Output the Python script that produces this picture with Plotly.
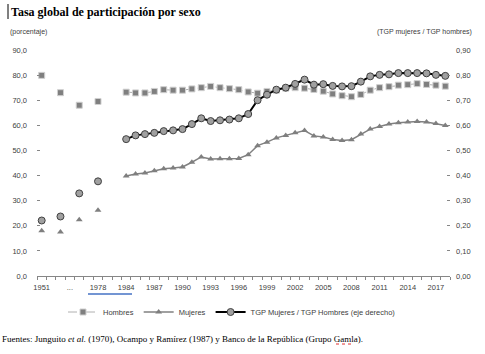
import plotly.graph_objects as go

# ---------------- data ----------------
categories = ["1951", "1951b", "1964", "...", "1973", "1973b", "1978", "1978b", "1978c"] + [str(y) for y in range(1984, 2019)]
hist_periods = ["1951", "1964", "1973", "1978"]
annual_years = [str(y) for y in range(1984, 2019)]

hombres_hist = [79.9, 73.0, 68.0, 69.5]
mujeres_hist = [18.0, 17.5, 22.4, 26.2]
ratio_hist = [0.221, 0.237, 0.329, 0.377]

hombres_annual = [73.2, 72.9, 72.9, 73.5, 74.2, 74.0, 74.0, 74.5, 75.0, 75.5,
                  75.0, 74.6, 74.2, 73.3, 72.8, 73.5, 74.0, 74.8, 75.0, 74.8,
                  74.3, 73.6, 72.5, 71.8, 71.4, 72.3, 74.0, 75.0, 75.4, 76.0,
                  76.2, 76.6, 76.3, 76.0, 75.6]
mujeres_annual = [39.8, 40.6, 41.0, 41.9, 42.7, 43.0, 43.4, 45.3, 47.4, 46.6,
                  46.7, 46.7, 46.8, 48.3, 51.9, 53.3, 55.0, 56.0, 57.0, 57.9,
                  55.8, 55.4, 54.4, 54.0, 54.3, 56.5, 58.5, 59.5, 60.5, 61.0,
                  61.3, 61.5, 61.3, 60.7, 59.9]
ratio_annual = [0.545, 0.560, 0.565, 0.570, 0.577, 0.580, 0.585, 0.605, 0.628, 0.617,
                0.620, 0.623, 0.628, 0.645, 0.700, 0.722, 0.742, 0.750, 0.765, 0.782,
                0.762, 0.764, 0.757, 0.755, 0.756, 0.774, 0.795, 0.801, 0.803, 0.808,
                0.808, 0.808, 0.807, 0.801, 0.797]

left_ticks = [0, 10, 20, 30, 40, 50, 60, 70, 80, 90]
right_ticks = [0.0, 0.1, 0.2, 0.3, 0.4, 0.5, 0.6, 0.7, 0.8, 0.9]

title_text = "Tasa global de participación por sexo"
left_unit = "(porcentaje)"
right_unit = "(TGP mujeres / TGP hombres)"
source_text = ("Fuentes: Junguito <i>et al.</i> (1970), Ocampo y Ramírez (1987) "
               "y Banco de la República (Grupo Gamla).")


def full_series(hist, annual):
    m = dict(zip(hist_periods, hist))
    m.update(zip(annual_years, annual))
    return [m.get(c) for c in categories]


# ---------------- layout geometry ----------------
W, H = 485, 354
ML, MR, MT, MB = 37, 35, 50, 78
PW, PH = W - ML - MR, H - MT - MB


def px(x):
    return (x - ML) / PW


def py(y):
    return (H - MB - y) / PH


LABEL_FONT = dict(family="Liberation Sans, Arial, sans-serif", size=7.5, color="#404040")

fig = go.Figure()

fig.add_trace(go.Scatter(
    x=categories, y=full_series(hombres_hist, hombres_annual), name="Hombres",
    mode="lines+markers", connectgaps=False,
    line=dict(color="#b0b0b0", width=1, dash="dash"),
    marker=dict(symbol="square", size=6, color="#7f7f7f", line=dict(color="#d0d0d0", width=1)),
))
fig.add_trace(go.Scatter(
    x=categories, y=full_series(mujeres_hist, mujeres_annual), name="Mujeres",
    mode="lines+markers", connectgaps=False,
    line=dict(color="#808080", width=1.5),
    marker=dict(symbol="triangle-up", size=6, color="#7f7f7f"),
))
fig.add_trace(go.Scatter(
    x=categories, y=full_series(ratio_hist, ratio_annual),
    name="TGP Mujeres / TGP Hombres (eje derecho)", yaxis="y2",
    mode="lines+markers", connectgaps=False,
    line=dict(color="#000000", width=2),
    marker=dict(symbol="circle", size=7, color="#a0a0a0", line=dict(color="#404040", width=1)),
))

ticktext = [c if i % 3 == 0 else "" for i, c in enumerate(categories)]

fig.update_layout(
    width=W, height=H,
    margin=dict(l=ML, r=MR, t=MT, b=MB),
    paper_bgcolor="white", plot_bgcolor="white",
    separators=",.",
    showlegend=True,
    legend=dict(orientation="h", x=px(63), y=py(312), xanchor="left", yanchor="middle",
                font=dict(family="Liberation Sans, Arial, sans-serif", size=7.5, color="#404040"),
                bgcolor="rgba(0,0,0,0)", tracegroupgap=0, itemwidth=30),
    xaxis=dict(type="category", categoryorder="array", categoryarray=categories,
               range=[-0.5, len(categories) - 0.5],
               tickmode="array", tickvals=categories, ticktext=ticktext,
               tickson="boundaries", ticks="outside", ticklen=3, tickcolor="#868686",
               showline=True, linecolor="#868686", linewidth=1,
               showgrid=False, zeroline=False, tickangle=0,
               tickfont=LABEL_FONT, ticklabelstandoff=4),
    yaxis=dict(range=[0, 90], tickvals=left_ticks, tickformat=".1f",
               showgrid=False, zeroline=False, showline=False,
               ticks="inside", ticklen=3, tickcolor="#868686",
               tickfont=LABEL_FONT, ticklabelstandoff=9),
    yaxis2=dict(range=[0, 0.9], tickvals=right_ticks, tickformat=".2f",
                overlaying="y", side="right",
                showgrid=False, zeroline=False, showline=False,
                ticks="inside", ticklen=3, tickcolor="#868686",
                tickfont=LABEL_FONT, ticklabelstandoff=5),
)

fig.add_annotation(text=f"<b>{title_text}</b>", xref="paper", yref="paper",
                   x=px(9), y=py(12), xanchor="left", yanchor="middle", showarrow=False,
                   font=dict(family="Liberation Serif, Times New Roman, serif", size=12, color="#000000"))
fig.add_annotation(text=left_unit, xref="paper", yref="paper",
                   x=px(8), y=py(32), xanchor="left", yanchor="middle", showarrow=False,
                   font=dict(family="Liberation Sans, Arial, sans-serif", size=7, color="#404040"))
fig.add_annotation(text=right_unit, xref="paper", yref="paper",
                   x=px(474), y=py(32), xanchor="right", yanchor="middle", showarrow=False,
                   font=dict(family="Liberation Sans, Arial, sans-serif", size=7, color="#404040"))
fig.add_annotation(text=source_text, xref="paper", yref="paper",
                   x=px(0), y=py(339), xanchor="left", yanchor="middle", showarrow=False,
                   font=dict(family="Liberation Serif, Times New Roman, serif", size=9, color="#000000"))

# editor artefacts visible in the reference
fig.add_shape(type="line", xref="paper", yref="paper", x0=px(8), x1=px(8), y0=py(4), y1=py(19),
              line=dict(color="#000000", width=1))
fig.add_shape(type="line", xref="paper", yref="paper", x0=px(88), x1=px(132), y0=py(294), y1=py(294),
              line=dict(color="#4472c4", width=1.5))
fig.add_shape(type="line", xref="paper", yref="paper", x0=px(336), x1=px(353), y0=py(344), y1=py(344),
              line=dict(color="#e03030", width=1, dash="dot"))

fig.write_html("out.html")
